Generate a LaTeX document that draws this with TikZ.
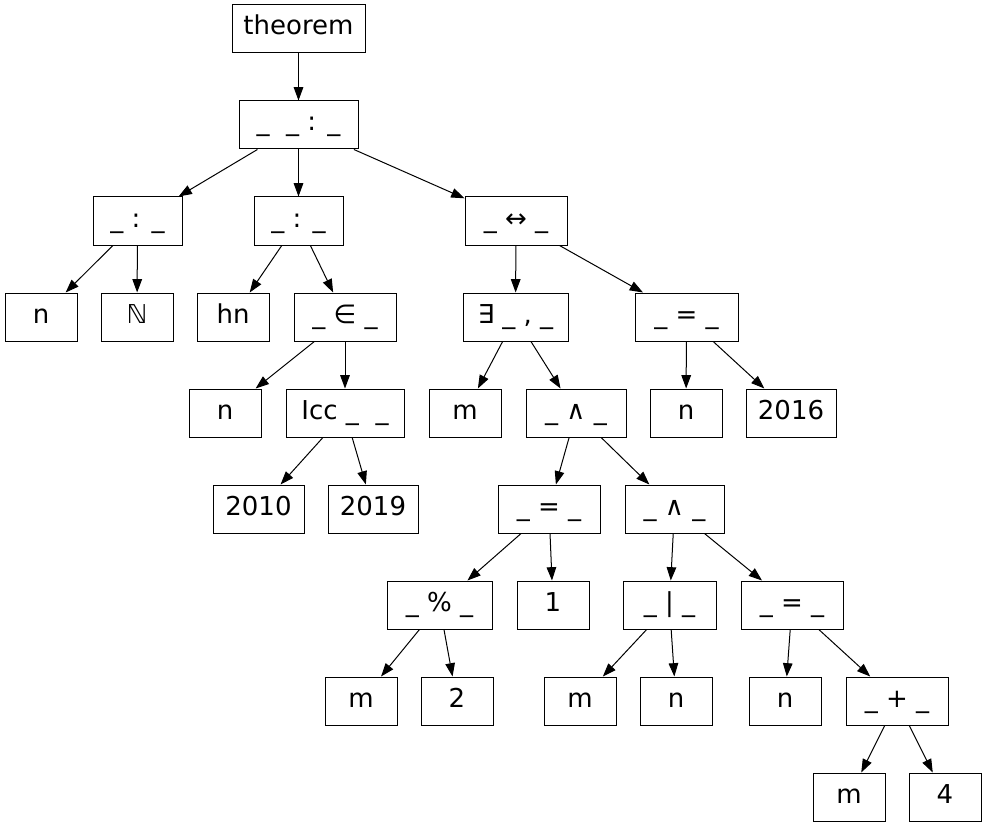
\documentclass[tikz,border=0pt]{standalone}
\usepackage{fontspec}
\setmainfont{DejaVu Sans}
\usepackage{tikz}
\usetikzlibrary{arrows.meta,positioning}
\tikzset{
    >={Triangle[length=10pt,width=7.2pt]},
    term/.style={
        rectangle,
        draw, line width=0.75pt,
        minimum width=#1*0.75pt,
        minimum height=36pt,
        inner xsep=0pt,
        text height=14pt, text depth=5pt,
        font={\fontsize{19.5pt}{23pt}\selectfont},
        anchor=center
    },
    term/.default=72,
    line/.style={draw, line width=0.75pt, ->},
}

\begin{document}
\begin{tikzpicture}[x=0.75pt, y=-0.75pt]
    \useasboundingbox (0,0) rectangle (987,827);
    % level 0 and 1
    \node[term=133] (thm)  at (298.5,28.5) {theorem};
    \node[term=119] (root) at (298.5,125)  {\_ \ \_ : \_};
    % level 2
    \node[term=89]  (colL) at (137.5,221)  {\_ : \_};
    \node[term=89]  (colM) at (298.5,221)  {\_ : \_};
    \node[term=102] (iff)  at (516,221)    {\_ ↔ \_};
    % level 3
    \node[term]     (nA)   at (41,317)     {n};
    \node[term]     (nat)  at (137,317)    {ℕ};
    \node[term]     (hn)   at (233,317)    {hn};
    \node[term=102] (mem)  at (345,317)    {\_ ∈ \_};
    \node[term=105] (ex)   at (515.5,317)  {∃ \_ , \_};
    \node[term=103] (eqA)  at (686.5,317)  {\_ = \_};
    % level 4
    \node[term]     (nB)   at (225,413)    {n};
    \node[term=118] (icc)  at (345,413)    {Icc \_ \ \_};
    \node[term]     (mA)   at (465,413)    {m};
    \node[term=100] (andA) at (576,413)    {\_ ∧ \_};
    \node[term]     (nC)   at (686,413)    {n};
    \node[term=90]  (yr16) at (791,413)    {2016};
    % level 5
    \node[term=91]  (yr10) at (258.5,509)  {2010};
    \node[term=90]  (yr19) at (373,509)    {2019};
    \node[term=102] (eqB)  at (549,509)    {\_ = \_};
    \node[term=99]  (andB) at (674.5,509)  {\_ ∧ \_};
    % level 6
    \node[term=105] (mod)  at (439.5,605)  {\_ \% \_};
    \node[term]     (one)  at (553,605)    {1};
    \node[term=93]  (dvd)  at (669.5,605)  {\_ | \_};
    \node[term=102] (eqC)  at (792,605)    {\_ = \_};
    % level 7
    \node[term]     (mB)   at (361,701)    {m};
    \node[term]     (two)  at (457,701)    {2};
    \node[term]     (mC)   at (580,701)    {m};
    \node[term]     (nD)   at (676,701)    {n};
    \node[term]     (nE)   at (785,701)    {n};
    \node[term=102] (plus) at (897,701)    {\_ + \_};
    % level 8
    \node[term]     (mD)   at (849,797)    {m};
    \node[term]     (four) at (945,797)    {4};

    \foreach \a/\b in {thm/root, root/colL, root/colM, root/iff,
        colL/nA, colL/nat, colM/hn, colM/mem, mem/nB, mem/icc,
        icc/yr10, icc/yr19, iff/ex, iff/eqA, ex/mA, ex/andA,
        eqA/nC, eqA/yr16, andA/eqB, andA/andB, eqB/mod, eqB/one,
        andB/dvd, andB/eqC, mod/mB, mod/two, dvd/mC, dvd/nD,
        eqC/nE, eqC/plus, plus/mD, plus/four}
        \draw[line] (\a) -- (\b);
\end{tikzpicture}
\end{document}
